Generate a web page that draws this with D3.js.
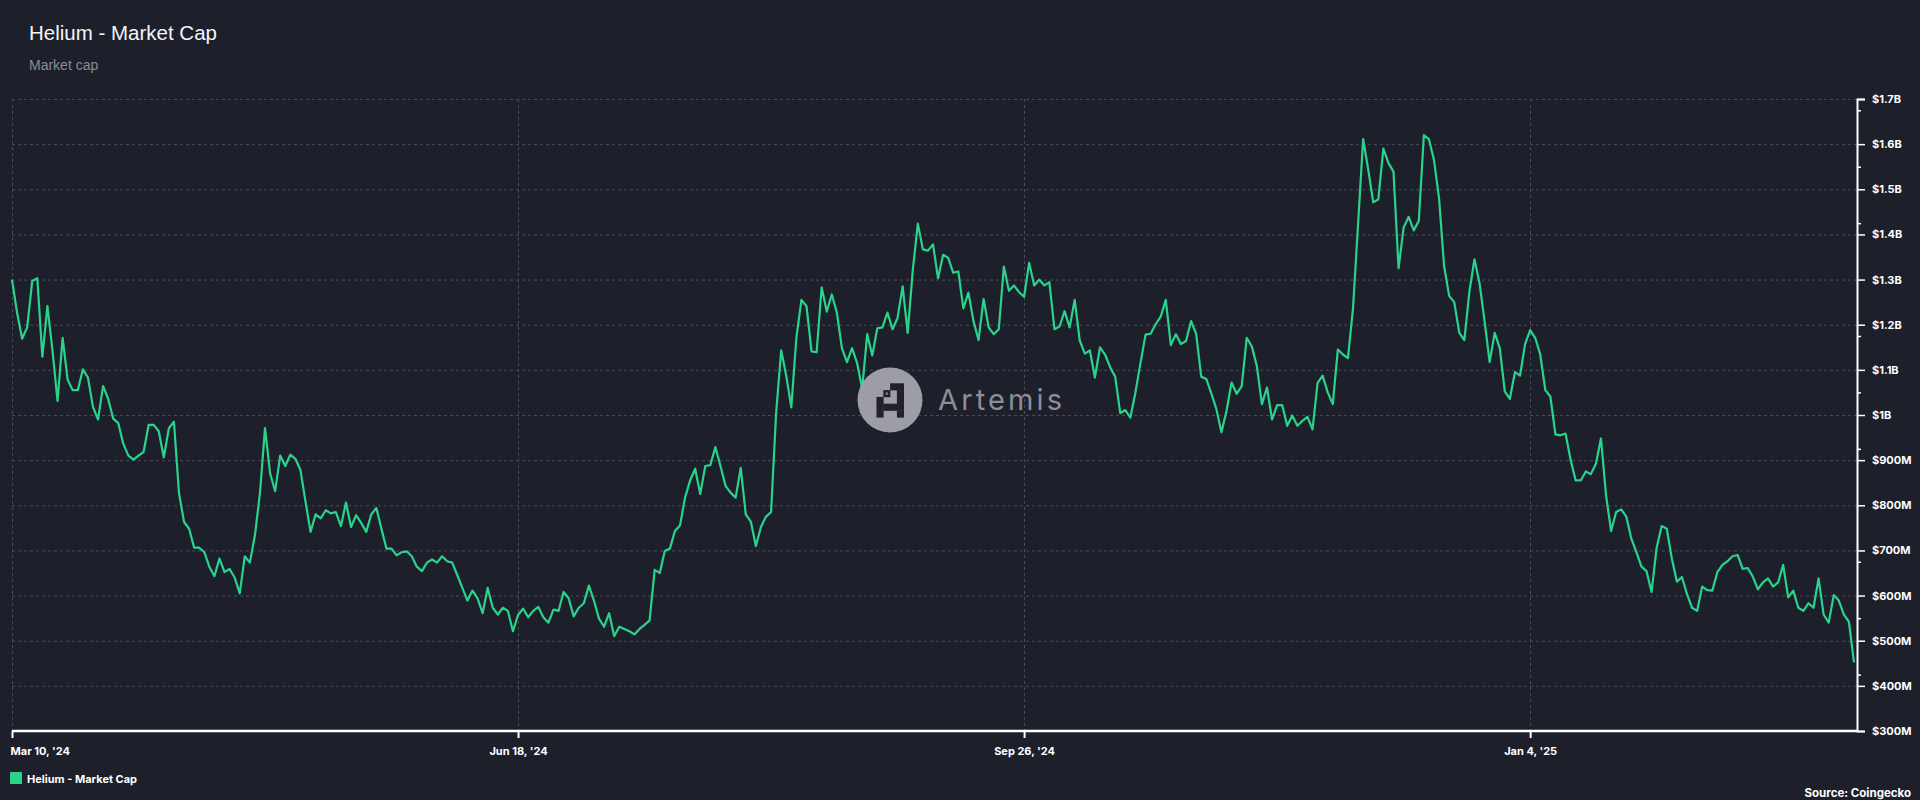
<!DOCTYPE html>
<html><head><meta charset="utf-8">
<script src="https://cdn.jsdelivr.net/npm/d3@7"></script>
<style>
html,body{margin:0;padding:0;background:#1d1f2b;}
svg{display:block;}
</style></head><body>
<svg id="c" width="1920" height="800"></svg>
<script>
// ---- data ----
const seriesName = "Helium - Market Cap";
const startDate = "2024-03-10";
// daily market cap, in millions of USD, from Mar 10 2024 to Mar 9 2025
const marketCapM = [
1300,1227,1169,1194,1297,1303,1129,1241,1143,1031,
1171,1078,1055,1055,1101,1083,1018,990,1064,1036,
992,982,936,910,901,910,918,978,978,964,
906,971,985,827,763,748,706,706,696,664,
643,682,652,659,640,605,687,673,733,827,
971,871,831,910,887,912,903,878,808,741,
780,771,789,782,785,754,806,752,778,761,
741,780,794,748,704,704,689,696,698,687,
664,654,673,680,673,687,676,673,645,617,
589,611,594,
561,617,573,558,573,566,521,557,571,552,
566,575,552,540,569,566,608,594,554,573,
583,622,589,549,531,561,510,531,526,521,
514,526,535,545,657,650,699,704,743,755,
817,855,881,825,887,889,929,887,843,828,
817,883,780,764,710,752,775,785,1004,1143,
1087,1017,1171,1255,1241,1141,1139,1283,1229,1267,
1227,1148,1117,1148,1115,1058,1179,1132,1192,1194,
1227,1190,1215,1285,1182,1320,1424,1367,1364,1378,
1303,1355,1348,1315,1318,
1236,1271,1208,1166,1257,1194,1179,1190,1329,1275,
1287,1272,1262,1337,1287,1300,1287,1294,1190,1196,
1230,1194,1255,1165,1136,1143,1083,1150,1134,1106,
1085,1004,1011,994,1050,1115,1178,1180,1201,1218,
1255,1155,1179,1157,1164,1208,1180,1085,1080,1048,
1013,962,1009,1072,1047,1064,1171,1152,1108,1024,
1061,990,1022,1022,976,999,976,987,996,968,
1071,1087,1050,1024,1145,1134,1126,1236,1423,1611,
1544,1471,1478,1590,1558,1539,1325,1415,1439,1409,
1430,1620,1611,1565,1480,
1330,1264,1250,1182,1166,1274,1345,1292,1208,1117,
1182,1148,1052,1036,1095,1087,1157,1188,1171,1134,
1055,1041,957,955,959,901,855,855,875,869,
892,948,822,743,785,791,775,726,696,664,
654,608,706,754,748,682,631,641,603,573,
566,620,612,611,652,668,676,687,690,659,
661,642,614,629,638,620,629,668,596,611,
573,566,583,573,638,558,540,601,589,558,
542,452
];
const yTicks = [300,400,500,600,700,800,900,1000,1100,1200,1300,1400,1500,1600,1700];
const yMinorTicks = [425,550,675,925,1050,1175,1425,1550,1675];
const xTickDates = ["2024-03-10","2024-06-18","2024-09-26","2025-01-04"];
const xTickLabels = ["Mar 10, '24","Jun 18, '24","Sep 26, '24","Jan 4, '25"];

// ---- styles ----
const bg = "#1d1f2b", lineColor = "#2ad38b", gridColor = "#4a4c5b";
const svg = d3.select("#c");
svg.append("rect").attr("width",1920).attr("height",800).attr("fill",bg);

const start = new Date(startDate + "T00:00:00Z");
const data = marketCapM.map((v,i)=>({date: d3.utcDay.offset(start,i), v}));

const x = d3.scaleUtc().domain([start, d3.utcDay.offset(start, marketCapM.length-1)]).range([12, 1854]);
const y = d3.scaleLinear().domain([300,1700]).range([731, 99]);
const axisX = 1857;

// title
svg.append("text").attr("x",29).attr("y",40).text(seriesName)
  .attr("fill","#f4f4f6").attr("font-family","Liberation Sans, Arial, sans-serif").attr("font-size",20.5);
svg.append("text").attr("x",29).attr("y",70).text("Market cap")
  .attr("fill","#8b8c95").attr("font-family","Liberation Sans, Arial, sans-serif").attr("font-size",14);

// grid
const grid = svg.append("g");
grid.selectAll("line.h").data(yTicks.filter(t=>t>300)).join("line")
  .attr("x1",12).attr("x2",axisX).attr("y1",d=>y(d)+0.5).attr("y2",d=>y(d)+0.5)
  .attr("stroke",gridColor).attr("stroke-width",1).attr("stroke-dasharray","3,3");
grid.selectAll("line.v").data(xTickDates).join("line")
  .attr("x1",d=>Math.round(x(new Date(d+"T00:00:00Z")))+0.5).attr("x2",d=>Math.round(x(new Date(d+"T00:00:00Z")))+0.5)
  .attr("y1",99).attr("y2",731)
  .attr("stroke",gridColor).attr("stroke-width",1).attr("stroke-dasharray","3,3");

// line
svg.append("path").datum(data)
  .attr("d", d3.line().x(d=>x(d.date)).y(d=>y(d.v)))
  .attr("fill","none").attr("stroke",lineColor).attr("stroke-width",2.2).attr("stroke-linejoin","round");

// watermark
const wm = svg.append("g").attr("transform","translate(890,400)");
wm.append("circle").attr("r",32.5).attr("fill","#a4a4ac").attr("opacity",0.95);
// pixel "A" glyph: [col,row]
const cells = [[2,0],[3,0],[1,1],[3,1],[0,2],[3,2],[0,3],[1,3],[2,3],[3,3],[0,4],[3,4]];
const cs = 6.8;
wm.selectAll("rect.px").data(cells).join("rect")
  .attr("x",d=>-13.5+d[0]*cs).attr("y",d=>-16.7+d[1]*cs).attr("width",cs+0.3).attr("height",cs+0.3).attr("fill","#20212c");
wm.append("rect").attr("x",-13.5+cs+2.3).attr("y",-16.7+cs+2.3).attr("width",2.4).attr("height",2.4).attr("fill","#7c7c84");
wm.append("text").attr("x",48).attr("y",10).text("Artemis")
  .attr("fill","#8e8e97").attr("font-family","Inter, sans-serif").attr("font-size",29)
  .attr("textLength",124).attr("lengthAdjust","spacing");

// y axis
const yAxis = svg.append("g").attr("transform",`translate(${axisX},0)`)
  .call(d3.axisRight(y).tickValues(yTicks).tickSize(8).tickPadding(7)
    .tickFormat(v=> v>=1000 ? "$"+d3.format("~g")(v/1000)+"B" : "$"+v+"M"));
yAxis.select(".domain").attr("stroke","#ffffff").attr("stroke-width",2);
yAxis.selectAll(".tick line").attr("stroke","#ffffff").attr("stroke-width",1.5);
yAxis.selectAll(".tick text").attr("fill","#ffffff").attr("font-family","Inter, sans-serif")
  .attr("font-weight","bold").attr("font-size",11);
const yMinor = svg.append("g").attr("transform",`translate(${axisX},0)`)
  .call(d3.axisRight(y).tickValues(yMinorTicks).tickSize(4).tickFormat(""));
yMinor.select(".domain").remove();
yMinor.selectAll(".tick line").attr("stroke","#ffffff").attr("stroke-width",1.5);

// x axis
const xTicks = xTickDates.map(d=>new Date(d+"T00:00:00Z"));
const xAxis = svg.append("g").attr("transform","translate(0,731)")
  .call(d3.axisBottom(x).tickValues(xTicks).tickSize(7).tickPadding(9)
    .tickFormat((d,i)=>xTickLabels[i]));
xAxis.select(".domain").attr("d",`M12,0H${axisX}`).attr("stroke","#ffffff").attr("stroke-width",2.5);
xAxis.selectAll(".tick line").attr("stroke","#ffffff").attr("stroke-width",2);
xAxis.selectAll(".tick text").attr("fill","#ffffff").attr("font-family","Inter, sans-serif")
  .attr("font-weight","bold").attr("font-size",11);
xAxis.selectAll(".tick text").filter((d,i)=>i===0).attr("text-anchor","start").attr("x",-2);

// legend
svg.append("rect").attr("x",10).attr("y",772).attr("width",12).attr("height",12).attr("rx",1).attr("fill",lineColor);
svg.append("text").attr("x",27).attr("y",783).text(seriesName)
  .attr("fill","#ffffff").attr("font-family","Inter, sans-serif").attr("font-weight","bold").attr("font-size",11);

// source
svg.append("text").attr("x",1911).attr("y",797).attr("text-anchor","end").text("Source: Coingecko")
  .attr("fill","#ffffff").attr("font-family","Inter, sans-serif").attr("font-weight","bold").attr("font-size",11.5);
</script>
</body></html>
